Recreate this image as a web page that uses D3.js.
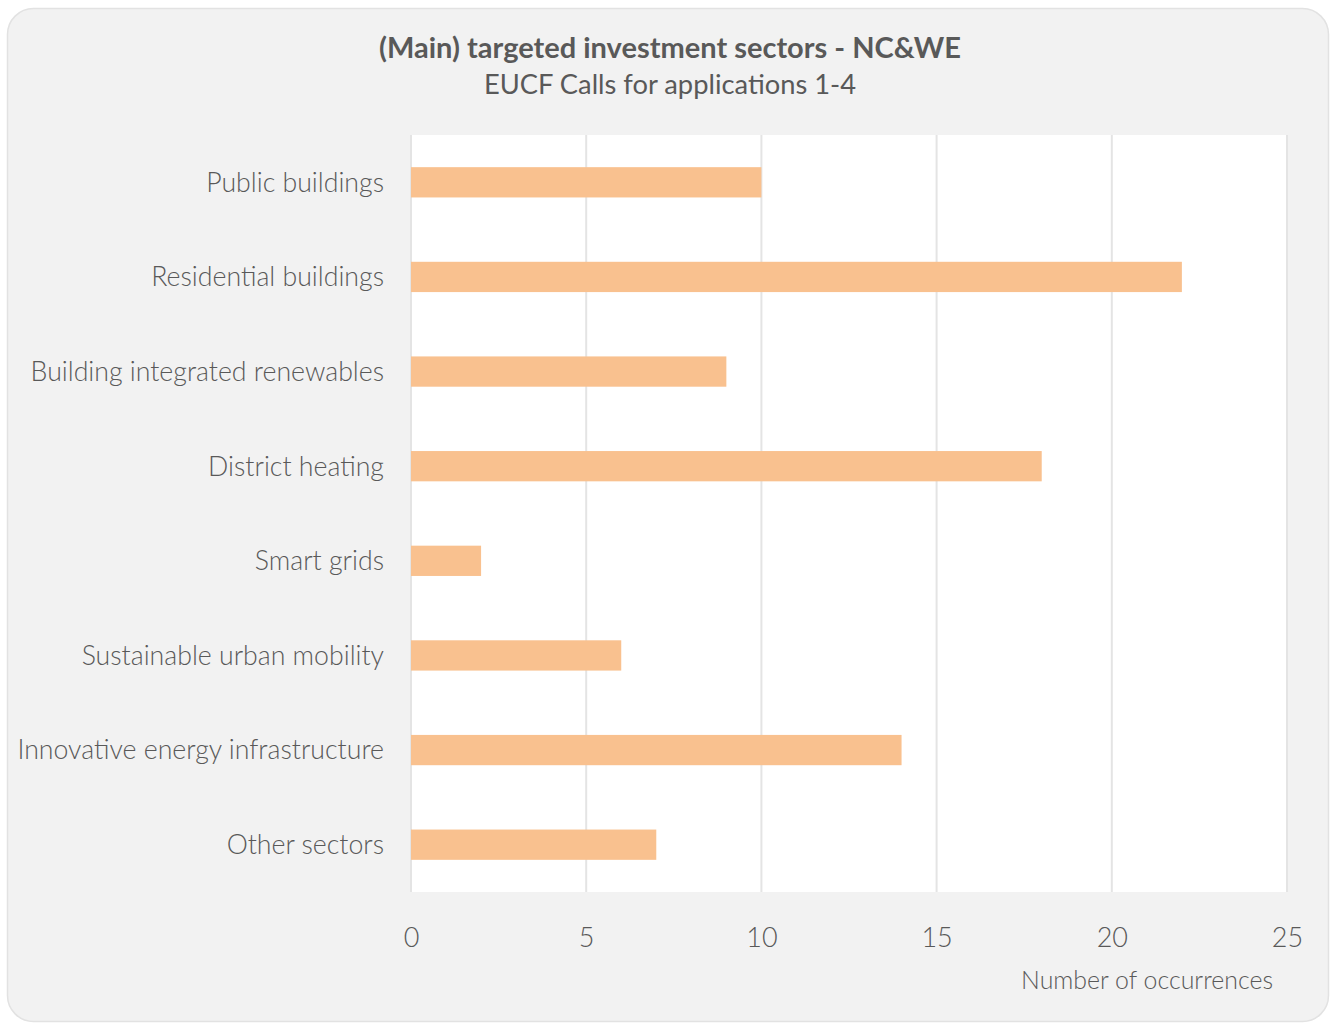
<!DOCTYPE html>
<html><head><meta charset="utf-8">
<script src="https://cdn.jsdelivr.net/npm/d3@7"></script>
<style>
html,body{margin:0;padding:0;background:#fff;}
svg{display:block;font-family:Lato,"Open Sans",sans-serif;}
</style></head>
<body>
<svg id="chart" width="1331" height="1024"></svg>
<script>
const categories = ["Public buildings","Residential buildings","Building integrated renewables","District heating","Smart grids","Sustainable urban mobility","Innovative energy infrastructure","Other sectors"];
const values = [10,22,9,18,2,6,14,7];
const tickValues = [0,5,10,15,20,25];
const titleText = "(Main) targeted investment sectors - NC&WE";
const subtitleText = "EUCF Calls for applications 1-4";
const axisTitle = "Number of occurrences";

(function(){
const svg = d3.select("#chart");
svg.append("rect").attr("x",7.5).attr("y",8.5).attr("width",1321).attr("height",1013)
  .attr("rx",26).attr("fill","#f2f2f2").attr("stroke","#e2e2e2").attr("stroke-width",1.5);

const pL=411, pR=1287, pT=135, pB=892;
const x = d3.scaleLinear().domain([0,25]).range([pL,pR]);
const y = d3.scaleBand().domain(categories).range([pT,pB]).paddingInner(0.68).paddingOuter(0.34);

svg.append("rect").attr("x",pL).attr("y",pT).attr("width",pR-pL).attr("height",pB-pT).attr("fill","#fff");

svg.append("g").selectAll("line").data(tickValues).join("line")
  .attr("x1",d=>x(d)).attr("x2",d=>x(d)).attr("y1",pT).attr("y2",pB)
  .attr("stroke","#e4e4e4").attr("stroke-width",2);

svg.append("g").selectAll("rect").data(values).join("rect")
  .attr("x",x(0)).attr("y",(d,i)=>y(categories[i]))
  .attr("width",d=>x(d)-x(0)).attr("height",y.bandwidth()).attr("fill","#f9c18f");

const xAxis = d3.axisBottom(x).tickValues(tickValues).tickSize(0).tickPadding(0);
const gx = svg.append("g").attr("transform",`translate(0,${pB})`).call(xAxis);
gx.select(".domain").remove();
gx.selectAll("text").attr("y",55).attr("dy",null).attr("font-size",27).attr("font-weight",300)
  .attr("fill","#595959").attr("font-family","Lato,sans-serif");

const yAxis = d3.axisLeft(y).tickSize(0).tickPadding(27);
const gy = svg.append("g").attr("transform",`translate(${pL},0)`).call(yAxis);
gy.select(".domain").remove();
gy.selectAll("text").attr("font-size",26.7).attr("font-weight",300).attr("fill","#595959")
  .attr("font-family","Lato,sans-serif").attr("dy","0.35em");

svg.append("text").attr("x",670).attr("y",58).attr("text-anchor","middle")
  .attr("font-size",29).attr("font-weight",700).attr("fill","#595959").text(titleText);
svg.append("text").attr("x",670).attr("y",94).attr("text-anchor","middle")
  .attr("font-size",27.3).attr("font-weight",400).attr("fill","#595959").text(subtitleText);
svg.append("text").attr("x",1273).attr("y",989).attr("text-anchor","end")
  .attr("font-size",24.9).attr("font-weight",300).attr("fill","#595959").text(axisTitle);
})();
</script>
</body></html>
